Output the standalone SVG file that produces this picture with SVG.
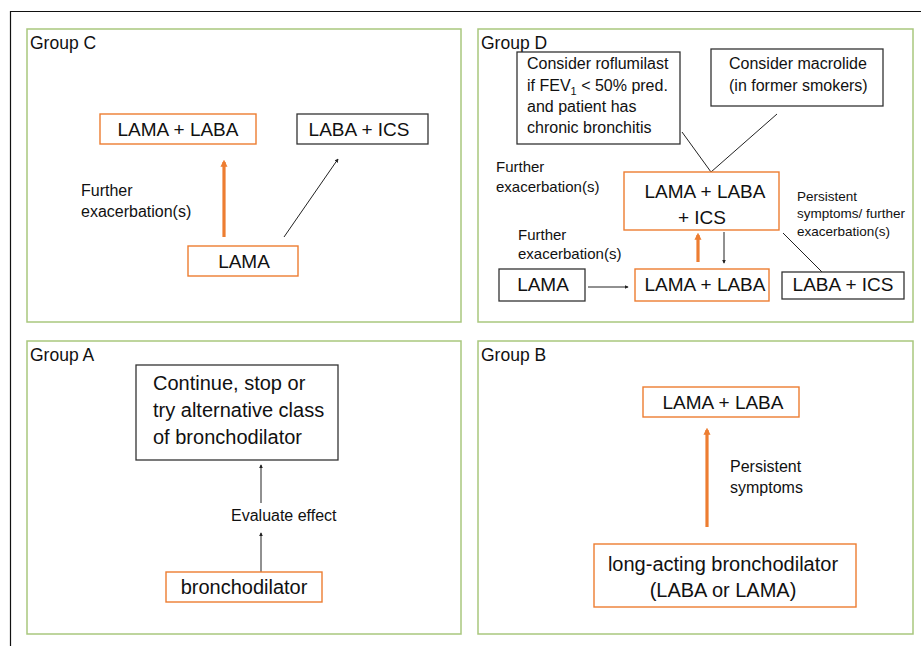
<svg xmlns="http://www.w3.org/2000/svg" width="921" height="646" viewBox="0 0 921 646">
<defs>
<style>
text{font-family:"Liberation Sans",Arial,sans-serif;fill:#111}
.grp{fill:none;stroke:#a9c77e;stroke-width:1.5}
.on{fill:#fff;stroke:#ed7d31;stroke-width:1.4}
.bk{fill:#fff;stroke:#333;stroke-width:1.3}
.gl{font-size:17.5px}
.nl{font-size:19px}
.sl{font-size:16px}
.thin{stroke:#222;stroke-width:1;fill:none}
.thick{stroke:#ed7d31;stroke-width:3.2;fill:none}
</style>
<marker id="ah" viewBox="0 0 6 6" refX="5" refY="3" markerWidth="4" markerHeight="4" orient="auto"><path d="M0,0L6,3L0,6z" fill="#222"/></marker>
<marker id="oh" viewBox="0 0 6 6" refX="4" refY="3" markerWidth="2.2" markerHeight="2.2" orient="auto"><path d="M0,0L6,3L0,6z" fill="#ed7d31"/></marker>
</defs>
<rect width="921" height="646" fill="#fff"/>
<path d="M10.5,646V11.5H921" fill="none" stroke="#111" stroke-width="1.2"/>

<g id="groupC">
<rect class="grp" x="27" y="29" width="434" height="293"/>
<text class="gl" x="30" y="49">Group C</text>
</g>
<g id="groupD">
<rect class="grp" x="478" y="29" width="435" height="293"/>
<text class="gl" x="481" y="49">Group D</text>
</g>
<g id="groupA">
<rect class="grp" x="27" y="341" width="434" height="293"/>
<text class="gl" x="30" y="361">Group A</text>
</g>
<g id="groupB">
<rect class="grp" x="478" y="341" width="435" height="293"/>
<text class="gl" x="481" y="361">Group B</text>
</g>

<g id="connectors">
<line class="thick" x1="224" y1="237" x2="224" y2="162" marker-end="url(#oh)"/>
<line class="thin" x1="284" y1="237" x2="338" y2="159" marker-end="url(#ah)"/>
<line class="thin" x1="682" y1="132" x2="711" y2="172"/>
<line class="thin" x1="711" y1="172" x2="777" y2="114"/>
<line class="thick" x1="698" y1="262" x2="698" y2="235" marker-end="url(#oh)"/>
<line class="thin" x1="724" y1="232" x2="724" y2="263" stroke="#555" marker-end="url(#ah)"/>
<line class="thin" x1="783" y1="233" x2="823" y2="273"/>
<line class="thin" x1="588" y1="287" x2="628" y2="287" marker-end="url(#ah)"/>
<line class="thin" x1="261" y1="503" x2="261" y2="465" marker-end="url(#ah)"/>
<line class="thin" x1="261" y1="572" x2="261" y2="533" marker-end="url(#ah)"/>
<line class="thick" x1="707" y1="527" x2="707" y2="430" marker-end="url(#oh)"/>
</g>

<g id="labels">
<text class="sl" x="81" y="196">Further</text>
<text class="sl" x="81" y="217">exacerbation(s)</text>
<text font-size="15" x="496" y="172">Further</text>
<text font-size="15" x="496" y="192">exacerbation(s)</text>
<text font-size="15" x="518" y="240">Further</text>
<text font-size="15" x="518" y="259">exacerbation(s)</text>
<text font-size="13.5" x="797" y="201">Persistent</text>
<text font-size="13.5" x="797" y="218">symptoms/ further</text>
<text font-size="13.5" x="797" y="236">exacerbation(s)</text>
<text class="sl" x="231" y="521">Evaluate effect</text>
<text class="sl" x="730" y="472">Persistent</text>
<text class="sl" x="730" y="493">symptoms</text>
</g>

<g id="c_lamalaba"><rect class="on" x="100" y="114" width="156" height="30"/><text class="nl" x="178" y="136" text-anchor="middle">LAMA + LABA</text></g>
<g id="c_labaics"><rect class="bk" x="297" y="114" width="131" height="30"/><text class="nl" x="359" y="136" text-anchor="middle">LABA + ICS</text></g>
<g id="c_lama"><rect class="on" x="188" y="246" width="110" height="30"/><text class="nl" x="244" y="268" text-anchor="middle">LAMA</text></g>

<g id="d_roflumilast"><rect class="bk" x="517" y="52" width="163" height="92"/>
<text class="sl" x="527" y="69">Consider roflumilast</text>
<text class="sl" x="527" y="91">if FEV<tspan font-size="11" dy="4">1</tspan><tspan dy="-4"> &lt; 50% pred.</tspan></text>
<text class="sl" x="527" y="112">and patient has</text>
<text class="sl" x="527" y="133">chronic bronchitis</text>
</g>
<g id="d_macrolide"><rect class="bk" x="711" y="49" width="172" height="57"/>
<text class="sl" x="729" y="69">Consider macrolide</text>
<text class="sl" x="729" y="91">(in former smokers)</text>
</g>
<g id="d_triple"><rect class="on" x="624" y="172" width="155" height="58"/>
<text class="nl" x="705" y="198" text-anchor="middle">LAMA + LABA</text>
<text class="nl" x="702" y="224" text-anchor="middle">+ ICS</text>
</g>
<g id="d_lama"><rect class="bk" x="499" y="269" width="86" height="32"/><text class="nl" x="543" y="291" text-anchor="middle">LAMA</text></g>
<g id="d_lamalaba"><rect class="on" x="635" y="269" width="134" height="32"/><text class="nl" x="705" y="291" text-anchor="middle">LAMA + LABA</text></g>
<g id="d_labaics"><rect class="bk" x="782" y="272" width="122" height="27"/><text class="nl" x="843" y="291" text-anchor="middle">LABA + ICS</text></g>

<g id="a_continue"><rect class="bk" x="136" y="365" width="202" height="95"/>
<text font-size="20" x="153" y="390">Continue, stop or</text>
<text font-size="20" x="153" y="417">try alternative class</text>
<text font-size="20" x="153" y="444">of bronchodilator</text>
</g>
<g id="a_bronchodilator"><rect class="on" x="166" y="572" width="156" height="30"/><text font-size="20" x="244" y="594" text-anchor="middle">bronchodilator</text></g>

<g id="b_lamalaba"><rect class="on" x="643" y="387" width="156" height="30"/><text class="nl" x="723" y="409" text-anchor="middle">LAMA + LABA</text></g>
<g id="b_longacting"><rect class="on" x="594" y="544" width="262" height="63"/>
<text font-size="20" x="723" y="571" text-anchor="middle">long-acting bronchodilator</text>
<text font-size="20" x="723" y="597" text-anchor="middle">(LABA or LAMA)</text>
</g>
</svg>
